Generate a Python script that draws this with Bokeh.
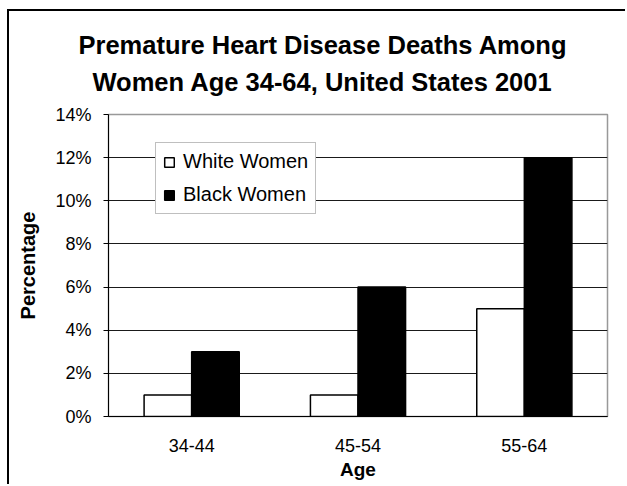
import numpy as np
from bokeh.plotting import figure
from bokeh.models import (ColumnDataSource, Range1d, LinearAxis, FixedTicker,
                          PrintfTickFormatter, Title, Legend)
from bokeh.transform import dodge
from bokeh.embed import file_html
from bokeh.resources import INLINE

# ---- data ----
ages = ["34-44", "45-54", "55-64"]
white_women = [1, 1, 5]
black_women = [3, 6, 12]
y_ticks = [0, 2, 4, 6, 8, 10, 12, 14]
title_lines = ["Premature Heart Disease Deaths Among", "Women Age 34-64,  United States 2001"]

FONT = "Liberation Sans"

centers = np.arange(len(ages)) + 0.5
src = ColumnDataSource(dict(pos=centers, age=ages, white=white_women, black=black_women))

p = figure(width=618, height=475, x_range=Range1d(0, len(ages)),
           y_range=Range1d(0, 14), output_backend="svg", toolbar_location=None,
           min_border_left=99, min_border_right=20, min_border_top=103, min_border_bottom=70,
           title=None)
p.margin = (9, 0, 0, 7)
p.styles = {"border-top": "2px solid black", "border-left": "2px solid black"}
p.background_fill_color = "white"
p.border_fill_color = "white"
p.outline_line_color = "#999999"
p.outline_line_width = 1.5

bw = 0.286
r1 = p.vbar(x=dodge("pos", -bw / 2), top="white", width=bw, source=src,
            fill_color="white", line_color="black", line_width=1.5)
r2 = p.vbar(x=dodge("pos", bw / 2), top="black", width=bw, source=src,
            fill_color="black", line_color="black", line_width=1.5)

# grid
p.xgrid.grid_line_color = None
p.ygrid.grid_line_color = "#1a1a1a"
p.ygrid.grid_line_width = 1
p.ygrid.ticker = FixedTicker(ticks=y_ticks)

# y axis
ya = p.yaxis[0]
ya.ticker = FixedTicker(ticks=y_ticks)
ya.formatter = PrintfTickFormatter(format="%d%%")
ya.axis_line_color = "black"
ya.major_tick_out = 5
ya.major_tick_in = 0
ya.minor_tick_line_color = None
ya.major_label_text_font = FONT
ya.major_label_text_font_size = "18px"
ya.major_label_text_color = "black"
ya.major_label_standoff = 12
ya.axis_label = "Percentage"
ya.axis_label_text_font = FONT
ya.axis_label_text_font_style = "bold"
ya.axis_label_text_font_size = "20px"
ya.axis_label_text_color = "black"
ya.axis_label_standoff = 13

# x axis (category labels at centers)
xa = p.xaxis[0]
xa.ticker = FixedTicker(ticks=list(centers))
xa.major_label_overrides = {float(c): a for c, a in zip(centers, ages)}
xa.axis_line_color = "black"
xa.major_tick_line_color = None
xa.major_tick_out = 0
xa.major_tick_in = 0
xa.minor_tick_line_color = None
xa.major_label_text_font = FONT
xa.major_label_text_font_size = "18px"
xa.major_label_text_color = "black"
xa.major_label_standoff = 22
xa.axis_label = "Age"
xa.axis_label_text_font = FONT
xa.axis_label_text_font_style = "bold"
xa.axis_label_text_font_size = "19px"
xa.axis_label_text_color = "black"
xa.axis_label_standoff = 4

# boundary ticks on x axis
bax = LinearAxis(fixed_location=0,
                 ticker=FixedTicker(ticks=list(range(len(ages) + 1))),
                 major_tick_out=5, major_tick_in=0, minor_tick_line_color=None,
                 major_label_text_alpha=0, major_label_text_font_size="1px",
                 axis_line_color="black")
p.add_layout(bax, "below")

# titles (first added sits nearest the plot)
p.add_layout(Title(text=title_lines[1], align="left", offset=-16, standoff=38,
                   text_font=FONT, text_font_size="25.5px", text_font_style="bold",
                   text_color="black"), "above")
p.add_layout(Title(text=title_lines[0], align="left", offset=-30, standoff=-24,
                   text_font=FONT, text_font_size="25.5px", text_font_style="bold",
                   text_color="black"), "above")

# legend
legend = Legend(items=[("White Women", [r1]), ("Black Women", [r2])], location=(47, 202),
                border_line_color="#808080", border_line_width=1,
                background_fill_color="white", background_fill_alpha=1,
                label_text_font=FONT, label_text_font_size="20px", label_text_color="black",
                glyph_width=12, glyph_height=12, label_standoff=8,
                padding=7, spacing=10, label_height=22, margin=0)
p.add_layout(legend)

open("out.html", "w").write(file_html(p, INLINE))
